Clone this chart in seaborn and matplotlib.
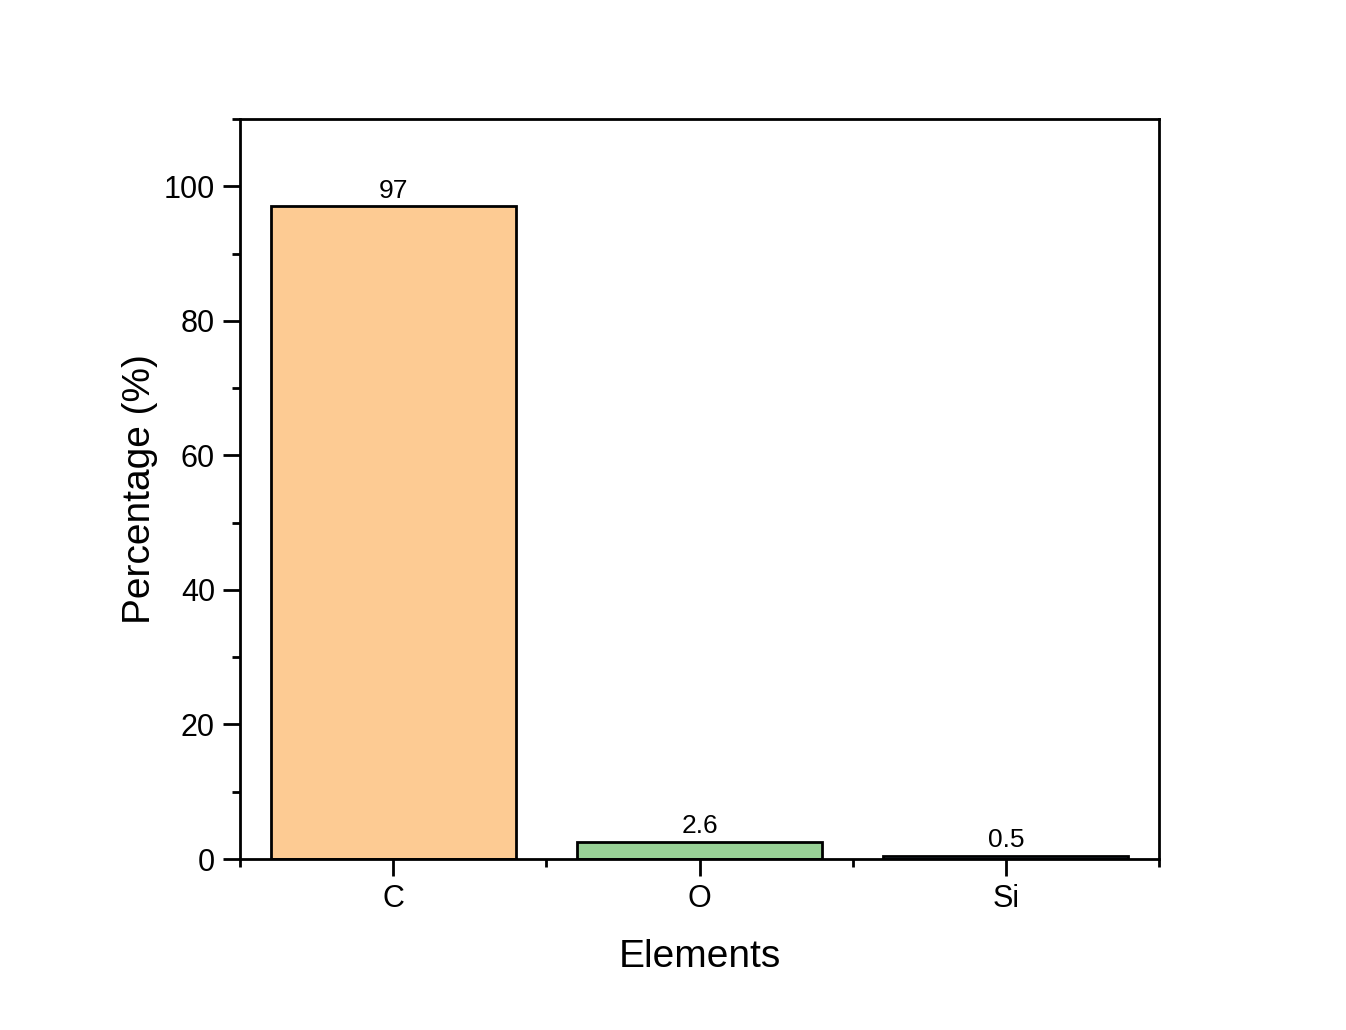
import pandas as pd
import seaborn as sns
import matplotlib.pyplot as plt
from matplotlib.ticker import MultipleLocator, FixedLocator

# Dados
elementos = ["C", "O", "Si"]
percentual = [97, 2.6, 0.5]
rotulos = ["97", "2.6", "0.5"]
cores = ["#FDCB93", "#98D196", "#7F9FD8"]

df = pd.DataFrame({"Elements": elementos, "Percentage": percentual})

sns.set_theme(style="white")
plt.rcParams['font.family'] = ['Liberation Sans', 'DejaVu Sans']
plt.rcParams['text.color'] = 'black'
plt.rcParams['axes.labelcolor'] = 'black'
plt.rcParams['xtick.color'] = 'black'
plt.rcParams['ytick.color'] = 'black'

fig = plt.figure(figsize=(13.46, 10.30), dpi=100)
ax = fig.add_axes([0.1783, 0.166, 0.6828, 0.7185])

sns.barplot(data=df, x="Elements", y="Percentage", hue="Elements",
            palette=cores, saturation=1, width=0.8, edgecolor="black",
            linewidth=2, legend=False, ax=ax)

for i, (v, t) in enumerate(zip(percentual, rotulos)):
    ax.text(i, v + 0.5, t, ha='center', va='bottom', fontsize=19)

ax.set_xlim(-0.5, 2.5)
ax.set_ylim(0, 110)
ax.yaxis.set_major_locator(MultipleLocator(20))
ax.yaxis.set_minor_locator(MultipleLocator(10))
ax.xaxis.set_minor_locator(FixedLocator([-0.5, 0.5, 1.5, 2.5]))

for s in ax.spines.values():
    s.set_linewidth(2)
    s.set_color("black")

ax.tick_params(axis='both', which='major', direction='out', length=12, width=2,
               labelsize=22, pad=6)
ax.tick_params(axis='both', which='minor', direction='out', length=6, width=2)
ax.tick_params(top=False, right=False, which='both')
ax.tick_params(axis='x', which='both', bottom=True)
ax.tick_params(axis='y', which='both', left=True)

ax.set_xlabel("Elements", fontsize=28, labelpad=18)
ax.set_ylabel("Percentage (%)", fontsize=28, labelpad=4)

fig.savefig("out.png", dpi=100)
